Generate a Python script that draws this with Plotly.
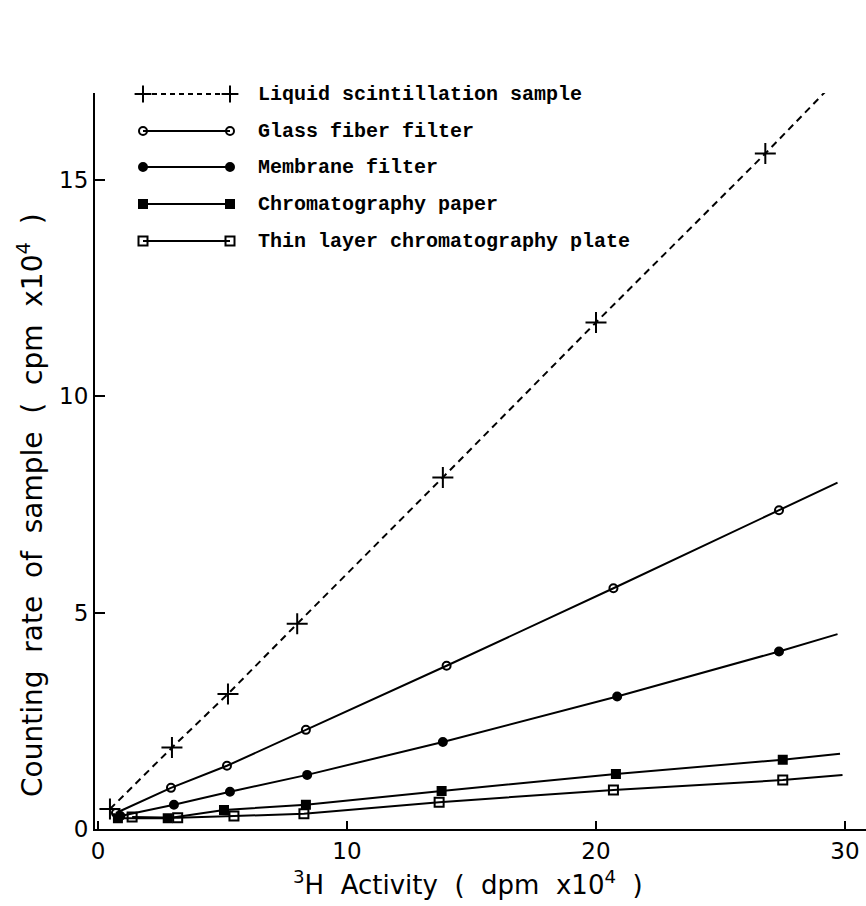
import plotly.graph_objects as go

# ---- data (x: 3H activity, dpm x10^4 ; y: counting rate, cpm x10^4) ----
series_names = [
    "Liquid scintillation sample",
    "Glass fiber filter",
    "Membrane filter",
    "Chromatography paper",
    "Thin layer chromatography plate",
]

liquid_x = [0.48, 2.97, 5.22, 8.0, 13.85, 20.0, 26.8]
liquid_y = [0.46, 1.88, 3.12, 4.74, 8.12, 11.7, 15.6]
liquid_end = (29.5, 17.2)

glass_x = [0.72, 2.93, 5.18, 8.35, 14.0, 20.7, 27.35]
glass_y = [0.37, 0.95, 1.46, 2.29, 3.77, 5.56, 7.36]
glass_end = (29.7, 8.0)

membrane_x = [0.9, 3.05, 5.3, 8.4, 13.85, 20.85, 27.35]
membrane_y = [0.3, 0.56, 0.86, 1.25, 2.01, 3.06, 4.1]
membrane_end = (29.7, 4.5)

chrom_x = [0.8, 2.8, 5.06, 8.35, 13.8, 20.8, 27.5]
chrom_y = [0.25, 0.25, 0.44, 0.56, 0.88, 1.27, 1.6]
chrom_end = (29.8, 1.74)

tlc_x = [1.37, 3.2, 5.46, 8.27, 13.7, 20.7, 27.5]
tlc_y = [0.28, 0.26, 0.3, 0.35, 0.62, 0.9, 1.13]
tlc_end = (29.9, 1.25)

x_ticks = [0, 10, 20, 30]
y_ticks = [0, 5, 10, 15]

# ---- styles ----
styles = [
    dict(symbol="cross-thin", size=15, dash="dash"),
    dict(symbol="circle-open", size=8, dash="solid"),
    dict(symbol="circle", size=8, dash="solid"),
    dict(symbol="square", size=8, dash="solid"),
    dict(symbol="square-open", size=9, dash="solid"),
]
data = [
    (liquid_x, liquid_y, liquid_end),
    (glass_x, glass_y, glass_end),
    (membrane_x, membrane_y, membrane_end),
    (chrom_x, chrom_y, chrom_end),
    (tlc_x, tlc_y, tlc_end),
]

W, H = 866, 906
L, R, T, B = 95, 0, 93, 77
plot_w = W - L - R
plot_h = H - T - B

fig = go.Figure()

for (xs, ys, end), st in zip(data, styles):
    fig.add_trace(go.Scatter(
        x=xs + [end[0]], y=ys + [end[1]], mode="lines",
        line=dict(color="black", width=2, dash="7px,5px" if st["dash"] == "dash" else "solid"),
        showlegend=False, hoverinfo="skip", cliponaxis=False,
    ))
    fig.add_trace(go.Scatter(
        x=xs, y=ys, mode="markers",
        marker=dict(symbol=st["symbol"], size=st["size"], color="black",
                    line=dict(color="black", width=2)),
        showlegend=False, cliponaxis=False,
    ))

# ---- custom legend on overlay pixel axes ----
legend_rows = [94, 131, 167, 204, 241]  # absolute pixel y
lx0, lx1, ltext = 143, 230, 256
for name, st, ry in zip(series_names, styles, legend_rows):
    yy = ry - T
    fig.add_trace(go.Scatter(
        x=[lx0 - L, lx1 - L], y=[yy, yy], mode="lines+markers",
        xaxis="x2", yaxis="y2",
        line=dict(color="black", width=2, dash="5px,4px" if st["dash"] == "dash" else "solid"),
        marker=dict(symbol=st["symbol"], size=min(st["size"], 12), color="black",
                    line=dict(color="black", width=2)),
        showlegend=False, hoverinfo="skip", cliponaxis=False,
    ))
    fig.add_annotation(
        x=ltext - L, y=yy, xref="x2", yref="y2", text="<b>" + name + "</b>", showarrow=False,
        xanchor="left", yanchor="middle",
        font=dict(family="Liberation Mono, Courier New, monospace", size=20, color="black"),
    )

fig.add_annotation(
    x=(31 - L) / plot_w, y=(H - B - 505) / plot_h, xref="paper", yref="paper",
    text="Counting  rate  of  sample  (  cpm  x10<sup>4</sup>  )",
    showarrow=False, textangle=-90, xanchor="center", yanchor="middle",
    font=dict(family="DejaVu Sans, Liberation Sans, sans-serif", size=28, color="black"),
)

fig.add_annotation(
    x=(468 - L) / plot_w, y=-(883 - (H - B)) / plot_h, xref="paper", yref="paper",
    text="<sup>3</sup>H  Activity  (  dpm  x10<sup>4</sup>  )",
    showarrow=False, xanchor="center", yanchor="middle",
    font=dict(family="DejaVu Sans, Liberation Sans, sans-serif", size=26, color="black"),
)

x_per = 24.9
x0_px = 98
tick_font = dict(family="DejaVu Sans, Liberation Sans, sans-serif", size=23, color="black")
fig.update_layout(
    width=W, height=H,
    margin=dict(l=L, r=R, t=T, b=B, pad=0),
    paper_bgcolor="white", plot_bgcolor="white",
    showlegend=False,
    xaxis=dict(
        range=[(L - x0_px) / x_per, (W - R - x0_px) / x_per],
        tickvals=x_ticks, ticks="inside", ticklen=8, tickwidth=2, tickcolor="black",
        showline=True, linecolor="black", linewidth=2, showgrid=False, zeroline=False,
        tickfont=tick_font,
    ),
    yaxis=dict(
        range=[0, plot_h / 43.3],
        tickvals=y_ticks, ticks="inside", ticklen=10, tickwidth=2, tickcolor="black",
        showline=True, linecolor="black", linewidth=2, showgrid=False, zeroline=False,
        tickfont=tick_font,
    ),
    xaxis2=dict(overlaying="x", range=[0, plot_w], visible=False, fixedrange=True),
    yaxis2=dict(overlaying="y", range=[plot_h, 0], visible=False, fixedrange=True),
)

fig.write_html("out.html")
